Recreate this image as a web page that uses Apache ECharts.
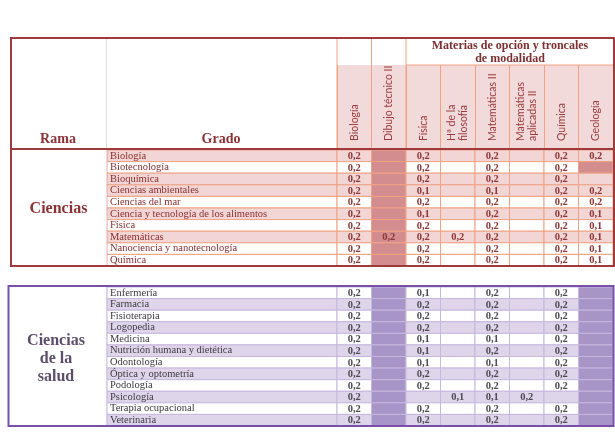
<!DOCTYPE html>
<html><head><meta charset="utf-8">
<script src="https://cdn.jsdelivr.net/npm/echarts@6/dist/echarts.min.js"></script>
<style>html,body{margin:0;padding:0;background:#fff}#c{width:615px;height:439px}</style>
</head><body><div id="c"></div>
<script>
// ---------- DATA ----------
const subjects = ['Biología', 'Dibujo técnico II', 'Física', 'Hª de la\nfilosofía', 'Matemáticas II', 'Matemáticas\naplicadas II', 'Química', 'Geología'];
const ramas = ['Ciencias', 'Ciencias\nde la\nsalud'];
const headerTitles = ['Rama', 'Grado', 'Materias de opción y troncales\nde modalidad'];

const gradosCiencias = ['Biología', 'Biotecnología', 'Bioquímica', 'Ciencias ambientales', 'Ciencias del mar',
  'Ciencia y tecnología de los alimentos', 'Física', 'Matemáticas', 'Nanociencia y nanotecnología', 'Química'];
const valuesCiencias = [
  [0.2, null, 0.2, null, 0.2, null, 0.2, 0.2],
  [0.2, null, 0.2, null, 0.2, null, 0.2, null],
  [0.2, null, 0.2, null, 0.2, null, 0.2, null],
  [0.2, null, 0.1, null, 0.1, null, 0.2, 0.2],
  [0.2, null, 0.2, null, 0.2, null, 0.2, 0.2],
  [0.2, null, 0.1, null, 0.2, null, 0.2, 0.1],
  [0.2, null, 0.2, null, 0.2, null, 0.2, 0.1],
  [0.2, 0.2, 0.2, 0.2, 0.2, null, 0.2, 0.1],
  [0.2, null, 0.2, null, 0.2, null, 0.2, 0.1],
  [0.2, null, 0.2, null, 0.2, null, 0.2, 0.1]
];
const highlightCiencias = [1, 0, 1, 1, 0, 1, 0, 1, 0, 0];
const shadedColsCiencias = [1];
const shadedCellsCiencias = [[7, 1]]; // [col, row]

const gradosSalud = ['Enfermería', 'Farmacia', 'Fisioterapia', 'Logopedia', 'Medicina', 'Nutrición humana y dietética',
  'Odontología', 'Óptica y optometría', 'Podología', 'Psicología', 'Terapia ocupacional', 'Veterinaria'];
const valuesSalud = [
  [0.2, null, 0.1, null, 0.2, null, 0.2, null],
  [0.2, null, 0.2, null, 0.2, null, 0.2, null],
  [0.2, null, 0.2, null, 0.2, null, 0.2, null],
  [0.2, null, 0.2, null, 0.2, null, 0.2, null],
  [0.2, null, 0.1, null, 0.1, null, 0.2, null],
  [0.2, null, 0.1, null, 0.2, null, 0.2, null],
  [0.2, null, 0.1, null, 0.1, null, 0.2, null],
  [0.2, null, 0.2, null, 0.2, null, 0.2, null],
  [0.2, null, 0.2, null, 0.2, null, 0.2, null],
  [0.2, null, null, 0.1, 0.1, 0.2, null, null],
  [0.2, null, 0.2, null, 0.2, null, 0.2, null],
  [0.2, null, 0.2, null, 0.2, null, 0.2, null]
];
const highlightSalud = [0, 1, 0, 1, 0, 1, 0, 1, 0, 1, 0, 1];
const shadedColsSalud = [1, 7];
const shadedCellsSalud = [];

// ---------- STYLE / LAYOUT ----------
const L = 337, R = 613, GRADO_W = 230;
const themeC = {border: '#9E3A3B', line: '#F0A282', light: '#F2D5D5', dark: '#D38D8E', text: '#8A2E30', value: '#8E3536', rama: '#8E3134', head: '#F3DADA'};
const themeS = {border: '#7A4FAA', line: '#C6B7DE', light: '#DED5EA', dark: '#A795C8', text: '#3E3A40', value: '#4E4A52', rama: '#5C4D6A'};
const serif = '"Liberation Serif", "DejaVu Serif", serif';

function fmt(v) { return v == null ? '' : v.toFixed(1).replace('.', ','); }

function buildCells(values, hl, shadedCols, shadedCells) {
  const out = [];
  values.forEach((row, r) => row.forEach((v, c) => {
    const sh = shadedCols.includes(c) || shadedCells.some(p => p[0] === c && p[1] === r);
    out.push([c, r, v == null ? '-' : v, hl[r], sh ? 1 : 0]);
  }));
  return out;
}
function buildRows(hl) { return hl.map((h, r) => [0, r, h]); }

function cellRender(th) {
  return function (params, api) {
    const c = api.coord([api.value(0), api.value(1)]);
    const s = api.size([1, 1]);
    const shaded = api.value(4) === 1, hl = api.value(3) === 1;
    const raw = api.value(2);
    const txt = (raw === '-' || isNaN(raw)) ? '' : fmt(Number(raw));
    return {
      type: 'group', children: [
        {type: 'rect', shape: {x: c[0] - s[0] / 2, y: c[1] - s[1] / 2, width: s[0], height: s[1]},
          style: {fill: shaded ? th.dark : (hl ? th.light : '#fff'), stroke: th.line, lineWidth: 1}},
        {type: 'text', x: c[0], y: c[1] + 0.5, z2: 5,
          style: {text: txt, align: 'center', verticalAlign: 'middle', fill: th.value,
            font: 'bold 10.5px ' + serif}}
      ]
    };
  };
}
function rowRender(th) {
  return function (params, api) {
    const c = api.coord([0, api.value(1)]);
    const s = api.size([1, 1]);
    const left = c[0] - s[0] / 2;
    return {type: 'rect', shape: {x: left - GRADO_W, y: c[1] - s[1] / 2, width: GRADO_W, height: s[1]},
      style: {fill: api.value(2) === 1 ? th.light : '#fff', stroke: th.line, lineWidth: 1}};
  };
}

const chart = echarts.init(document.getElementById('c'), null, {renderer: 'canvas'});

const yLabel = (th) => ({align: 'left', margin: GRADO_W - 3, interval: 0, color: th.text, fontFamily: serif, fontSize: 10.5});

const option = {
  animation: false,
  grid: [
    {left: L, width: R - L, top: 150, height: 116},
    {left: L, width: R - L, top: 287, height: 139},
    {left: L, width: R - L, top: 65, height: 83}
  ],
  xAxis: [
    {gridIndex: 0, type: 'category', data: subjects, show: false},
    {gridIndex: 1, type: 'category', data: subjects, show: false},
    {gridIndex: 2, type: 'category', data: subjects, position: 'bottom',
      axisLine: {show: false}, axisTick: {show: false},
      splitArea: {show: true, areaStyle: {color: [themeC.head]}},
      splitLine: {show: true, lineStyle: {color: themeC.line, width: 1}},
      axisLabel: {inside: true, rotate: 90, margin: 7, color: '#9A3A3C', fontFamily: 'Lato, "Open Sans", sans-serif', fontSize: 10.5, lineHeight: 11.5, interval: 0}}
  ],
  yAxis: [
    {gridIndex: 0, type: 'category', data: gradosCiencias, inverse: true, z: 10,
      axisLine: {show: false}, axisTick: {show: false}, axisLabel: yLabel(themeC)},
    {gridIndex: 1, type: 'category', data: gradosSalud, inverse: true, z: 10,
      axisLine: {show: false}, axisTick: {show: false}, axisLabel: yLabel(themeS)},
    {gridIndex: 2, type: 'value', show: false, min: 0, max: 1}
  ],
  series: [
    {type: 'custom', xAxisIndex: 0, yAxisIndex: 0, clip: false, renderItem: rowRender(themeC), data: buildRows(highlightCiencias), z: 1},
    {type: 'custom', xAxisIndex: 0, yAxisIndex: 0, clip: false, renderItem: cellRender(themeC),
      data: buildCells(valuesCiencias, highlightCiencias, shadedColsCiencias, shadedCellsCiencias), z: 2},
    {type: 'custom', xAxisIndex: 1, yAxisIndex: 1, clip: false, renderItem: rowRender(themeS), data: buildRows(highlightSalud), z: 1},
    {type: 'custom', xAxisIndex: 1, yAxisIndex: 1, clip: false, renderItem: cellRender(themeS),
      data: buildCells(valuesSalud, highlightSalud, shadedColsSalud, shadedCellsSalud), z: 2}
  ],
  graphic: [
    // header structural lines
    {type: 'line', z: 50, shape: {x1: 106.5, y1: 38, x2: 106.5, y2: 265}, style: {stroke: '#F0D9D9', lineWidth: 1}},
    {type: 'line', z: 50, shape: {x1: L, y1: 38, x2: L, y2: 149}, style: {stroke: themeC.line, lineWidth: 1}},
    {type: 'line', z: 50, shape: {x1: L + (R - L) / 8, y1: 38, x2: L + (R - L) / 8, y2: 149}, style: {stroke: themeC.line, lineWidth: 1}},
    {type: 'line', z: 50, shape: {x1: L + (R - L) / 4, y1: 38, x2: L + (R - L) / 4, y2: 149}, style: {stroke: themeC.line, lineWidth: 1}},
    {type: 'line', z: 50, shape: {x1: L + (R - L) / 4, y1: 65, x2: R, y2: 65}, style: {stroke: themeC.line, lineWidth: 1}},
    {type: 'line', z: 50, shape: {x1: 106.5, y1: 287, x2: 106.5, y2: 426}, style: {stroke: '#D9CFE6', lineWidth: 1}},
    // borders
    {type: 'rect', z: 60, shape: {x: 11, y: 38, width: 603, height: 228}, style: {fill: null, stroke: themeC.border, lineWidth: 2}},
    {type: 'line', z: 60, shape: {x1: 11, y1: 149, x2: 614, y2: 149}, style: {stroke: themeC.border, lineWidth: 2}},
    {type: 'rect', z: 60, shape: {x: 8.5, y: 286, width: 605, height: 140}, style: {fill: null, stroke: themeS.border, lineWidth: 2}},
    // header texts
    {type: 'text', z: 70, x: 58, y: 139, style: {text: headerTitles[0], align: 'center', verticalAlign: 'middle', fill: themeC.rama, font: 'bold 14px ' + serif}},
    {type: 'text', z: 70, x: 221, y: 139, style: {text: headerTitles[1], align: 'center', verticalAlign: 'middle', fill: themeC.rama, font: 'bold 14px ' + serif}},
    {type: 'text', z: 70, x: 510, y: 52.5, style: {text: headerTitles[2], align: 'center', verticalAlign: 'middle', lineHeight: 13, fill: '#7E2E30', font: 'bold 12px ' + serif}},
    // rama texts
    {type: 'text', z: 70, x: 58.5, y: 209, style: {text: ramas[0], align: 'center', verticalAlign: 'middle', fill: themeC.rama, font: 'bold 16px ' + serif}},
    {type: 'text', z: 70, x: 56, y: 359, style: {text: ramas[1], align: 'center', verticalAlign: 'middle', lineHeight: 18, fill: themeS.rama, font: 'bold 16px ' + serif}}
  ]
};
chart.setOption(option);
</script>
</body></html>
